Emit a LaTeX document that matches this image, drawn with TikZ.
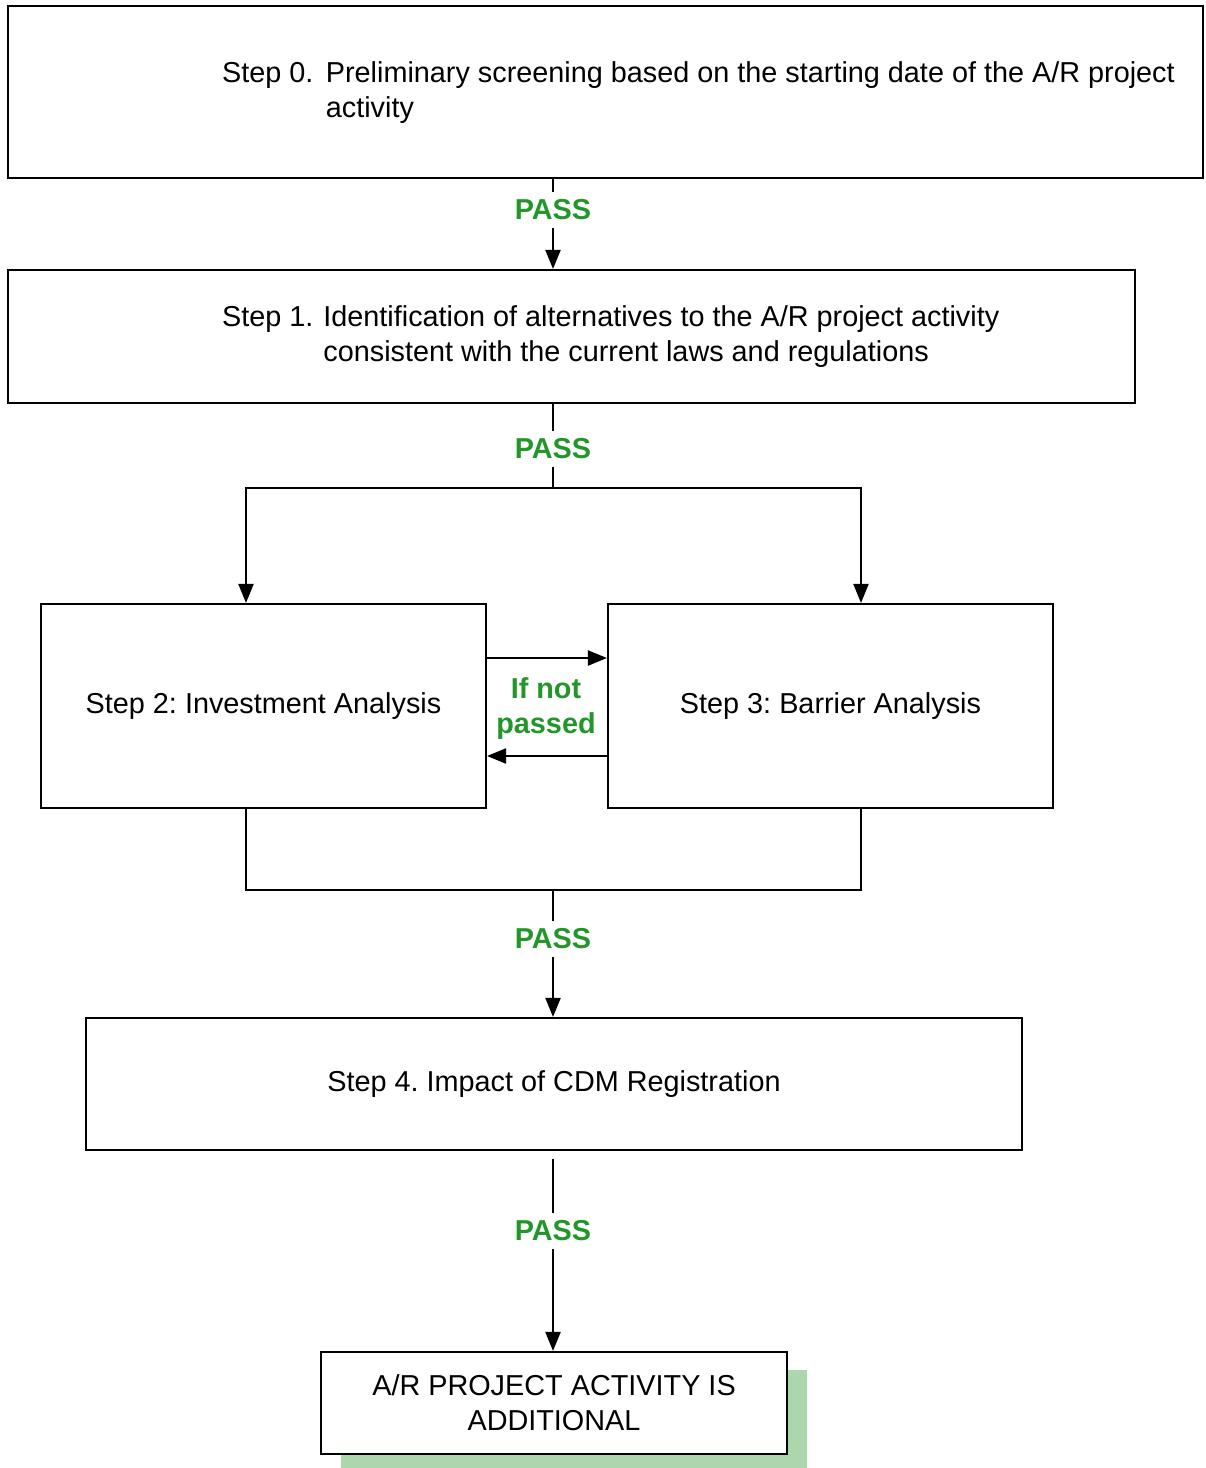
\documentclass[tikz,border=0pt]{standalone}
\usepackage{fontspec}
\setmainfont{Liberation Sans}
\usetikzlibrary{arrows.meta,shadows}
\definecolor{passgreen}{RGB}{34,150,40}
\definecolor{shadowgreen}{RGB}{172,214,172}
\frenchspacing

\begin{document}
\begin{tikzpicture}[
		x=0.02cm, y=-0.02cm,
		every node/.style={font=\fontsize{16.4}{19.9}\selectfont, inner sep=0pt},
		every path/.append style={line width=1.25pt},
		stepbox/.style={rectangle, draw, fill=white, align=center},
		passlabel/.style={draw=none, text=passgreen, font=\fontsize{16.4}{19.9}\selectfont\bfseries, inner sep=4pt, align=center},
		arr/.style={-{Triangle[length=3.8mm, width=3mm]}}
	]
  \useasboundingbox (0,0) rectangle (1205,1468);
  \node (step_0) [stepbox, minimum width=23.9cm, minimum height=3.44cm] at (605.5, 92) {};
  \node (step_0_label) [anchor=west] at (221, 93) {\begin{tabular}{@{}l@{\hspace{0.25cm}}l@{}}Step 0. & Preliminary screening based on the starting date of the A/R project\\ & activity\end{tabular}};
  \node (step_1) [stepbox, minimum width=22.54cm, minimum height=2.66cm] at (571.5, 336.5) {};
  \node (step_1_label) [anchor=west] at (221, 337) {\begin{tabular}{@{}l@{\hspace{0.2cm}}l@{}}Step 1. & Identification of alternatives to the A/R project activity\\ & consistent with the current laws and regulations\end{tabular}};
  \node (step_2) [stepbox, minimum width=8.9cm, minimum height=4.08cm] at (263.5, 706) {Step 2: Investment Analysis};
  \node (step_3) [stepbox, minimum width=8.9cm, minimum height=4.08cm] at (830.5, 706) {Step 3: Barrier Analysis};
  \node (step_4) [stepbox, minimum width=18.72cm, minimum height=2.64cm] at (554, 1084) {Step 4. Impact of CDM Registration};
  \node (result) [stepbox, minimum width=9.32cm, minimum height=2.04cm, drop shadow={shadow xshift=0.4cm, shadow yshift=-0.36cm, fill=shadowgreen, opacity=1}] at (554, 1403) {A/R PROJECT ACTIVITY IS\\ADDITIONAL};
  \node (pass_0) [passlabel] at (553, 210) {PASS};
  \node (pass_1) [passlabel] at (553, 449) {PASS};
  \node (pass_2) [passlabel] at (553, 939) {PASS};
  \node (pass_3) [passlabel] at (553, 1231) {PASS};
  \node (retry) [passlabel, inner sep=1pt] at (546, 709) {If not\\passed};
  \coordinate (split_c) at (553, 488);
  \coordinate (split_l) at (246, 488);
  \coordinate (split_r) at (861, 488);
  \coordinate (merge_c) at (553, 890);
  \coordinate (merge_l) at (246, 890);
  \coordinate (merge_r) at (861, 890);
  \draw (step_0.south -| pass_0) -- (pass_0);
  \draw [arr] (pass_0) -- (step_1.north -| pass_0);
  \draw (step_1.south -| pass_1) -- (pass_1);
  \draw (pass_1) -- (split_c);
  \draw [arr] (split_c) -- (split_l) -- (split_l |- step_2.north);
  \draw [arr] (split_c) -- (split_r) -- (split_r |- step_3.north);
  \draw [arr] ([yshift=0.96cm]step_2.east) -- ([yshift=0.96cm]step_3.west);
  \draw [arr] ([yshift=-1cm]step_3.west) -- ([yshift=-1cm]step_2.east);
  \draw (split_l |- step_2.south) -- (merge_l) -- (merge_r) -- (split_r |- step_3.south);
  \draw (merge_c) -- (pass_2);
  \draw [arr] (pass_2) -- (step_4.north -| pass_2);
  \draw ([yshift=-0.16cm]step_4.south -| pass_3) -- (pass_3);
  \draw [arr] (pass_3) -- (result.north -| pass_3);
\end{tikzpicture}
\end{document}
